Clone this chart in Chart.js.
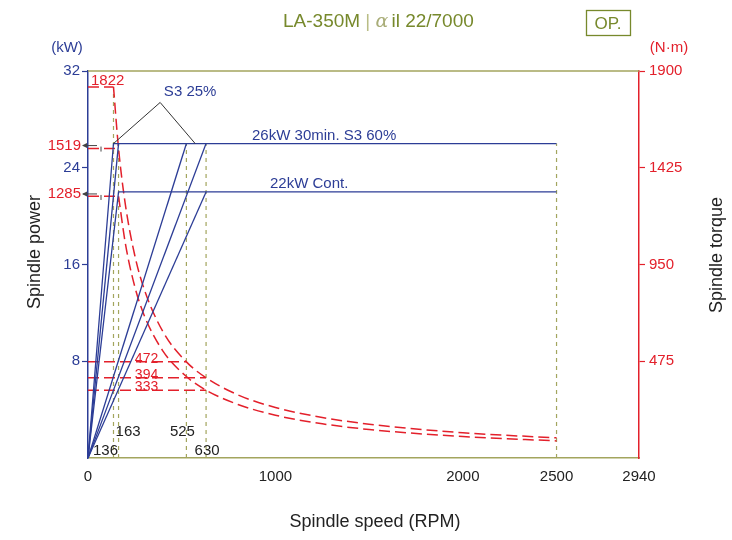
<!DOCTYPE html>
<html>
<head>
<meta charset="utf-8">
<script src="https://cdn.jsdelivr.net/npm/chart.js@4.4.0/dist/chart.umd.min.js"></script>
<style>
  html, body { margin: 0; padding: 0; background: #fff; }
</style>
</head>
<body>
<canvas id="spindleChart" width="732" height="540"></canvas>
<script>
// axis ticks
const speedTicks = [0, 1000, 2000, 2500, 2940];
const powerTicks = [8, 16, 24, 32];
const torqueTicks = [475, 950, 1425, 1900];

// power output lines (rpm -> kW)
const s3LowRpm = [0, 136, 2500];
const s3LowKw = [0, 26, 26];
const s60LowRpm = [0, 163];
const s60LowKw = [0, 26];
const contLowRpm = [0, 163, 2500];
const contLowKw = [0, 22, 22];
const s3HighRpm = [0, 525];
const s3HighKw = [0, 26];
const s60HighRpm = [0, 630];
const s60HighKw = [0, 26];
const contHighRpm = [0, 630];
const contHighKw = [0, 22];

// torque curves (rpm -> N·m)
const s3FlatRpm = [0, 136];
const s3FlatNm = [1822, 1822];
const s60FlatRpm = [0, 163];
const s60FlatNm = [1519, 1519];
const contFlatRpm = [0, 163];
const contFlatNm = [1285, 1285];
const s3CurveRpm = [136, 163, 200, 250, 300, 400, 525, 630, 800, 1000, 1250, 1500, 2000, 2500];
const s3CurveNm = [1822, 1519, 1240, 993, 828, 620, 472, 394, 310, 248, 199, 166, 124, 99];
const contCurveRpm = [163, 200, 250, 300, 400, 525, 630, 800, 1000, 1250, 1500, 2000, 2500];
const contCurveNm = [1285, 1050, 840, 700, 525, 400, 333, 263, 210, 168, 140, 105, 84];

// torque reference marks at the winding switch speeds
const refTorque = [472, 394, 333];
const refRpm = [525, 630, 630];

// base speed guide lines
const guideRpm = [136, 163, 525, 630, 2500];
const guideTopKw = [30.4, 26, 26, 26, 26];

const blue = '#2c3d96';
const red = '#e3202b';
const olive = '#a3a55e';
const titleOlive = '#77892c';
const FONT = "'Liberation Sans', Arial, sans-serif";

const pts = (xs, ys) => xs.map((x, i) => ({ x: x, y: ys[i] }));

function powerSet(xs, ys) {
  return { data: pts(xs, ys), yAxisID: 'y', borderColor: blue, borderWidth: 1.3,
           pointRadius: 0, showLine: true, tension: 0 };
}
function torqueSet(xs, ys, smooth) {
  return { data: pts(xs, ys), yAxisID: 'y2', borderColor: red, borderWidth: 1.5,
           borderDash: [11, 5], pointRadius: 0, showLine: true,
           cubicInterpolationMode: smooth ? 'monotone' : 'default', tension: 0 };
}

const datasets = [
  powerSet(s3LowRpm, s3LowKw),
  powerSet(s60LowRpm, s60LowKw),
  powerSet(contLowRpm, contLowKw),
  powerSet(s3HighRpm, s3HighKw),
  powerSet(s60HighRpm, s60HighKw),
  powerSet(contHighRpm, contHighKw),
  torqueSet(s3FlatRpm, s3FlatNm, false),
  torqueSet(s60FlatRpm, s60FlatNm, false),
  torqueSet(contFlatRpm, contFlatNm, false),
  torqueSet(s3CurveRpm, s3CurveNm, true),
  torqueSet(contCurveRpm, contCurveNm, true)
];
refTorque.forEach((t, i) => datasets.push(torqueSet([0, refRpm[i]], [t, t], false)));
guideRpm.forEach((r, i) => datasets.push({
  data: pts([r, r], [0, guideTopKw[i]]), yAxisID: 'y', borderColor: olive, borderWidth: 1.2,
  borderDash: [4, 4], pointRadius: 0, showLine: true
}));

function txt(ctx, s, x, y, color, size, align, base) {
  ctx.fillStyle = color;
  ctx.font = size + 'px ' + FONT;
  ctx.textAlign = align || 'center';
  ctx.textBaseline = base || 'middle';
  ctx.fillText(s, x, y);
}

const decorations = {
  id: 'decorations',
  beforeDraw(chart) {
    const ctx = chart.ctx;
    ctx.save();
    ctx.fillStyle = '#fff';
    ctx.fillRect(0, 0, chart.width, chart.height);
    ctx.restore();
  },
  afterDraw(chart) {
    const ctx = chart.ctx;
    const a = chart.chartArea;
    const x = chart.scales.x, y = chart.scales.y, y2 = chart.scales.y2;
    ctx.save();

    // top frame line
    ctx.strokeStyle = olive;
    ctx.lineWidth = 1.5;
    ctx.beginPath();
    ctx.moveTo(a.left, a.top);
    ctx.lineTo(a.right, a.top);
    ctx.stroke();

    // title
    ctx.textBaseline = 'middle';
    ctx.textAlign = 'left';
    let tx = 283;
    const ty = 22;
    const parts = [
      ['LA-350M ', titleOlive, '19px ' + FONT],
      ['| ', '#b9bd86', '19px ' + FONT],
      ['\u03b1', '#a9ad78', 'italic 19px "DejaVu Serif", serif'],
      ['il 22/7000', titleOlive, '19px ' + FONT]
    ];
    parts.forEach(p => {
      ctx.font = p[2];
      ctx.fillStyle = p[1];
      ctx.fillText(p[0], tx, ty);
      tx += ctx.measureText(p[0]).width + (p[0] === '\u03b1' ? 3 : 0);
    });

    // OP. box
    ctx.strokeStyle = titleOlive;
    ctx.lineWidth = 1.3;
    ctx.strokeRect(586.5, 10.5, 44, 25);
    txt(ctx, 'OP.', 608, 24, titleOlive, 17);

    // unit labels
    txt(ctx, '(kW)', 67, 48, blue, 15);
    txt(ctx, '(N\u00b7m)', 669, 48, red, 15);

    // axis titles
    txt(ctx, 'Spindle speed (RPM)', 375, 522, '#222', 18);
    ctx.save();
    ctx.translate(35, 252);
    ctx.rotate(-Math.PI / 2);
    txt(ctx, 'Spindle power', 0, 0, '#222', 18);
    ctx.restore();
    ctx.save();
    ctx.translate(717, 255);
    ctx.rotate(-Math.PI / 2);
    txt(ctx, 'Spindle torque', 0, 0, '#222', 18);
    ctx.restore();

    // power line labels
    txt(ctx, '26kW 30min. S3 60%', x.getPixelForValue(1260), y.getPixelForValue(26) - 8, blue, 15);
    txt(ctx, '22kW Cont.', x.getPixelForValue(1180), y.getPixelForValue(22) - 8, blue, 15);

    // S3 25% callout
    txt(ctx, 'S3 25%', x.getPixelForValue(545), y.getPixelForValue(30.3), blue, 15);
    const ax = x.getPixelForValue(385), ay = y.getPixelForValue(29.4);
    ctx.strokeStyle = '#333';
    ctx.lineWidth = 1;
    ctx.beginPath();
    ctx.moveTo(x.getPixelForValue(136), y.getPixelForValue(26));
    ctx.lineTo(ax, ay);
    ctx.lineTo(x.getPixelForValue(572), y.getPixelForValue(26));
    ctx.stroke();

    // torque labels
    txt(ctx, '1822', x.getPixelForValue(0) + 3, y2.getPixelForValue(1822) + 1, red, 15, 'left', 'bottom');
    [['1519', 26], ['1285', 22]].forEach(l => {
      const ly = y.getPixelForValue(l[1]) + 2;
      txt(ctx, l[0], 81, ly, red, 15, 'right');
      ctx.strokeStyle = '#444';
      ctx.fillStyle = '#444';
      ctx.lineWidth = 1;
      ctx.beginPath();
      ctx.moveTo(83, ly);
      ctx.lineTo(97, ly);
      ctx.stroke();
      ctx.beginPath();
      ctx.moveTo(82, ly);
      ctx.lineTo(87, ly - 2.5);
      ctx.lineTo(87, ly + 2.5);
      ctx.closePath();
      ctx.fill();
      ctx.beginPath();
      ctx.moveTo(101, ly + 1);
      ctx.lineTo(101, ly + 6);
      ctx.stroke();
    });
    refTorque.forEach(t => {
      txt(ctx, String(t), x.getPixelForValue(250), y2.getPixelForValue(t) + 1, red, 14, 'left', 'alphabetic');
    });

    // base speed labels
    const bottom = a.bottom;
    txt(ctx, '136', x.getPixelForValue(0) + 5, bottom - 7, '#222', 15, 'left');
    txt(ctx, '163', x.getPixelForValue(163) - 3, bottom - 26, '#222', 15, 'left');
    txt(ctx, '525', x.getPixelForValue(525) - 4, bottom - 26, '#222', 15);
    txt(ctx, '630', x.getPixelForValue(630) + 1, bottom - 7, '#222', 15);

    ctx.restore();
  }
};

const ctx = document.getElementById('spindleChart');
const spindleChart = new Chart(ctx, {
  type: 'scatter',
  data: { datasets: datasets },
  plugins: [decorations],
  options: {
    responsive: false,
    animation: false,
    layout: { padding: { top: 71, left: 0, right: 0, bottom: 0 } },
    plugins: {
      legend: { display: false },
      tooltip: { enabled: false }
    },
    scales: {
      x: {
        type: 'linear',
        min: 0,
        max: 2940,
        afterBuildTicks: s => { s.ticks = speedTicks.map(v => ({ value: v })); },
        afterFit: s => { s.height = 82; },
        border: { display: true, color: olive, width: 1.5 },
        grid: { drawOnChartArea: false, drawTicks: false },
        ticks: { color: '#222', font: { size: 15, family: FONT }, padding: 10,
                 maxRotation: 0, autoSkip: false, callback: v => String(v) }
      },
      y: {
        position: 'left',
        min: 0,
        max: 32,
        afterBuildTicks: s => { s.ticks = powerTicks.map(v => ({ value: v })); },
        afterFit: s => { s.width = 88; },
        border: { display: true, color: blue, width: 1.5 },
        grid: { drawOnChartArea: false, tickLength: 6, color: blue, tickWidth: 1.2 },
        ticks: { color: blue, font: { size: 15, family: FONT }, padding: 2, callback: v => String(v) }
      },
      y2: {
        position: 'right',
        min: 0,
        max: 1900,
        afterBuildTicks: s => { s.ticks = torqueTicks.map(v => ({ value: v })); },
        afterFit: s => { s.width = 93; },
        border: { display: true, color: red, width: 1.5 },
        grid: { drawOnChartArea: false, tickLength: 6, color: red, tickWidth: 1.2 },
        ticks: { color: red, font: { size: 15, family: FONT }, padding: 4, callback: v => String(v) }
      }
    }
  }
});
</script>
</body>
</html>
